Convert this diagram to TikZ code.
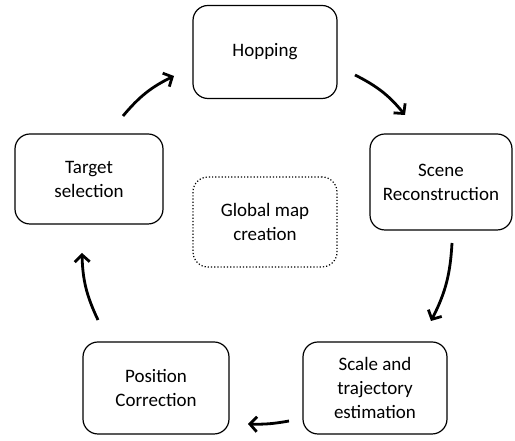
\documentclass[tikz,border=0pt]{standalone}
\usepackage{fontspec}
\setmainfont{Carlito}
\usetikzlibrary{arrows.meta}
\tikzstyle{stage} = [rectangle, rounded corners=15pt, minimum width=144pt, minimum height=92pt, align=center, draw=black, line width=1.2pt, font=\fontsize{19}{24}\selectfont]
\tikzstyle{hub} = [stage, dotted, minimum height=90pt]
\tikzstyle{cycle} = [line width=2.8pt, -{Straight Barb[length=7pt,width=15pt]}]

\begin{document}
\begin{tikzpicture}[x=1pt, y=1pt]
\useasboundingbox (0,0) rectangle (515,441);

% Stages of the loop
\node (hopping) [stage, minimum height=93pt] at (265,389) {Hopping};
\node (scene-rec) [stage, minimum width=142pt, minimum height=96pt] at (441,259) {Scene\\Reconstruction};
\node (scale-est) [stage] at (375,53) {Scale and\\trajectory\\estimation};
\node (pos-corr) [stage, minimum width=146pt] at (156,53) {Position\\Correction};
\node (target-sel) [stage, minimum width=148pt, minimum height=90pt] at (89,262) {Target\\selection};

% Centre
\node (global-map) [hub] at (265,219) {Global map\\creation};

% Arrow ends
\coordinate (a1s) at (123,325);
\coordinate (a1e) at (174,365);
\coordinate (a2s) at (355,366);
\coordinate (a2e) at (405,326);
\coordinate (a3s) at (452,198);
\coordinate (a3e) at (431,120);
\coordinate (a4s) at (289,20);
\coordinate (a4e) at (248,17);
\coordinate (a5s) at (98,121);
\coordinate (a5e) at (82,188);

% Arrows
\draw [cycle] (a1s) to[bend left=12] (a1e);
\draw [cycle] (a2s) to[bend left=12] (a2e);
\draw [cycle] (a3s) to[bend left=12] (a3e);
\draw [cycle] (a4s) to[bend left=6] (a4e);
\draw [cycle] (a5s) to[bend left=12] (a5e);

\end{tikzpicture}
\end{document}
